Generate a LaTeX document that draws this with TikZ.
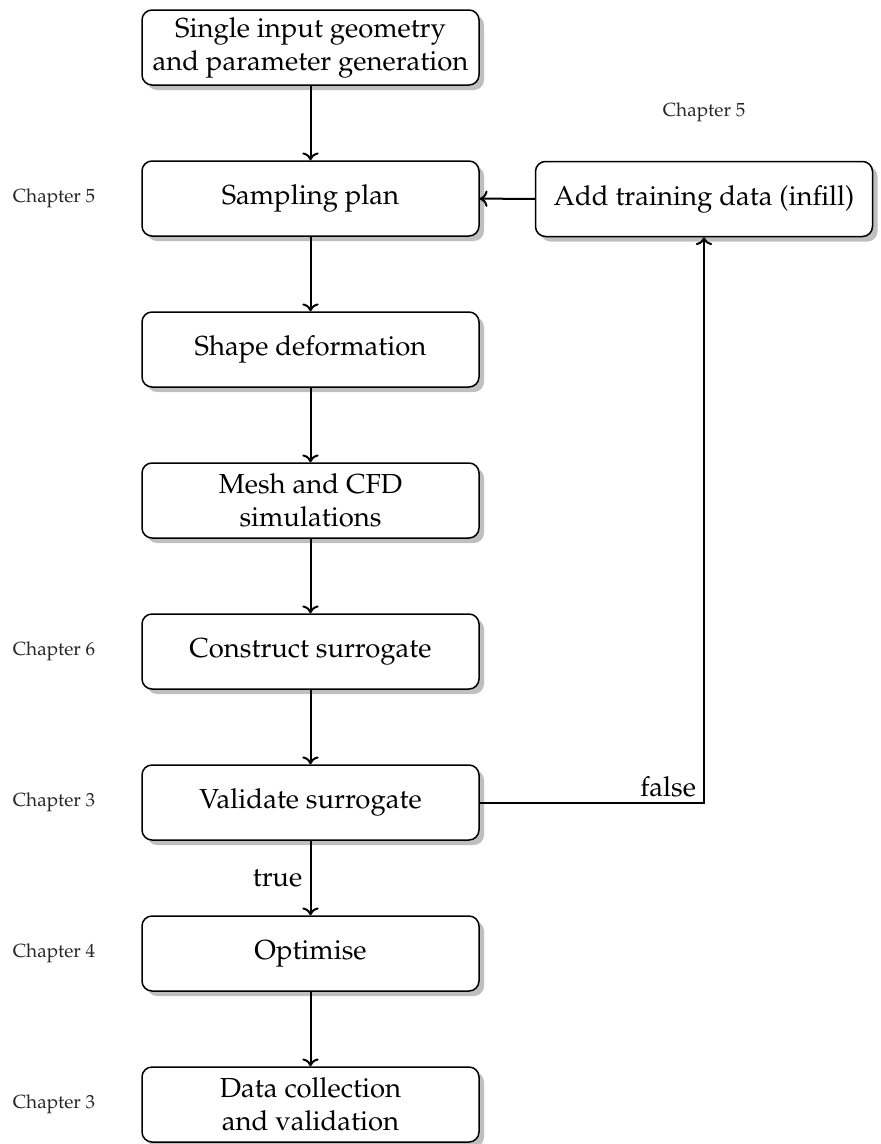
\documentclass[tikz,border=0pt]{standalone}
\usepackage[T1]{fontenc}
\usepackage{mathpazo}
\usetikzlibrary{shadows,arrows.meta}
\begin{document}
\begin{tikzpicture}[x=1pt,y=-1pt,
  stagebox/.style={draw, line width=1.5pt, rounded corners=10pt, fill=white,
    minimum width=337pt, minimum height=75pt, inner sep=0pt, align=center,
    font=\fontsize{27.5}{33}\selectfont,
    drop shadow={shadow xshift=5pt, shadow yshift=-5pt, fill=black!25, opacity=1}},
  chap/.style={font=\fontsize{19}{22}\selectfont, text=black!85},
  flow/.style={line width=2pt, -{To[scale=1.3]}},
  edgelabel/.style={font=\fontsize{27.5}{30}\selectfont}
]
\useasboundingbox (0,0) rectangle (881,1144);

% main chain of stages
\node[stagebox] (geom)  at (310.5, 47.5)  {Single input geometry\\and parameter generation};
\node[stagebox] (samp)  at (310.5, 198.5) {Sampling plan};
\node[stagebox] (shape) at (310.5, 349.5) {Shape deformation};
\node[stagebox] (mesh)  at (310.5, 500.5) {Mesh and CFD\\simulations};
\node[stagebox] (cons)  at (310.5, 651.5) {Construct surrogate};
\node[stagebox] (valid) at (310.5, 802.5) {Validate surrogate};
\node[stagebox] (opt)   at (310.5, 953.5) {Optimise};
\node[stagebox] (data)  at (310.5, 1104.5){Data collection\\and validation};

% infill stage
\node[stagebox] (infill) at (704, 199) {Add training data (infill)};

% chapter references
\node[chap] (c1) at (54, 198.5)  {Chapter 5};
\node[chap] (c2) at (54, 651.5)  {Chapter 6};
\node[chap] (c3) at (54, 802.5)  {Chapter 3};
\node[chap] (c4) at (54, 953.5)  {Chapter 4};
\node[chap] (c5) at (54, 1104.5) {Chapter 3};
\node[chap] (c6) at (704, 112)   {Chapter 5};

% connectors
\draw[flow] (geom) -- (samp);
\draw[flow] (samp) -- (shape);
\draw[flow] (shape) -- (mesh);
\draw[flow] (mesh) -- (cons);
\draw[flow] (cons) -- (valid);
\draw[flow] (valid) -- node[edgelabel, left=4pt] {true} (opt);
\draw[flow] (opt) -- (data);
\draw[flow] (valid.east) -| node[edgelabel, pos=0.42, above=1pt] {false} (infill.south);
\draw[flow] (infill) -- (samp);
\end{tikzpicture}
\end{document}
